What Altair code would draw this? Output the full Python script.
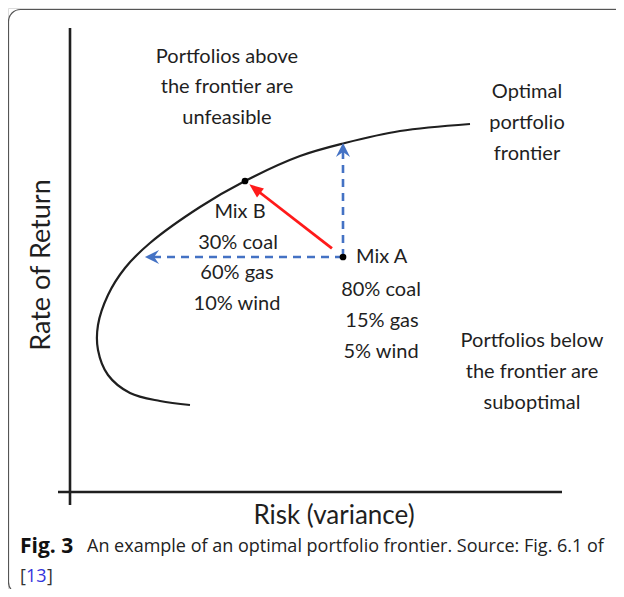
import altair as alt
import pandas as pd
import numpy as np

# ---- data (conceptual units: risk on x, return on y) ----
frontier_x = [40.0, 33.0, 27.5, 23.0, 17.5, 13.0, 8.0, 5.5, 3.8, 2.8, 2.8, 3.8, 6.0, 9.0, 12.0]
frontier_y = [36.8, 36.1, 34.9, 33.6, 31.1, 28.5, 24.9, 22.4, 19.7, 16.7, 14.2, 11.7, 9.9, 9.1, 8.7]

mix_names = ["Mix A", "Mix B"]
mix_x = [27.3, 17.5]
mix_y = [23.5, 31.1]

# blue dashed moves from Mix A: straight up (same risk) and straight left (same return)
move_tip_x = [27.3, 7.5]
move_tip_y = [34.9, 23.5]

text_lines = ["Portfolios above", "the frontier are", "unfeasible",
              "Optimal", "portfolio", "frontier",
              "Mix B", "30% coal", "60% gas", "10% wind",
              "80% coal", "15% gas", "5% wind",
              "Portfolios below", "the frontier are", "suboptimal"]
text_x = [15.7, 15.7, 15.7,
          45.7, 45.7, 45.7,
          17.0, 16.8, 16.7, 16.7,
          31.1, 31.2, 31.1,
          46.2, 46.2, 46.2]
text_y = [43.5, 40.5, 37.4,
          40.0, 36.9, 33.8,
          28.0, 24.9, 21.9, 18.8,
          20.2, 17.1, 14.0,
          15.1, 12.0, 8.9]

x_title = "Risk (variance)"
y_title = "Rate of Return"
caption_bold = "Fig. 3"
caption_text = "An example of an optimal portfolio frontier. Source: Fig. 6.1 of"
caption_ref = "13"

# ---- scales ----
XS = alt.Scale(domain=[-6.2, 54.6], nice=False, zero=False)
YS = alt.Scale(domain=[-9.7, 48.4], nice=False, zero=False)
FONT = "Lato"
CFONT = "Open Sans"
INK = "#1f1f1f"
BLUE = "#4472c4"
RED = "#ff1a1a"
FS = 20

def X(f):
    return alt.X(f, type="quantitative", scale=XS, axis=None)

def Y(f):
    return alt.Y(f, type="quantitative", scale=YS, axis=None)

# frame
frame_df = pd.DataFrame({"x": [-6.15], "x2": [62.0], "y": [48.25], "y2": [-10.2]})
frame = alt.Chart(frame_df).mark_rect(filled=False, stroke="#555555", strokeWidth=1.2,
                                      cornerRadius=12, clip=False).encode(
    x=X("x"), x2="x2", y=Y("y"), y2="y2")

# axes lines
axes_df = pd.DataFrame({"x": [0.0, -1.2], "x2": [0.0, 49.2], "y": [-1.3, 0.0], "y2": [46.4, 0.0]})
axes = alt.Chart(axes_df).mark_rule(color=INK, strokeWidth=2.6).encode(
    x=X("x"), x2="x2", y=Y("y"), y2="y2")

# frontier
fr_df = pd.DataFrame({"x": frontier_x, "y": frontier_y, "o": list(range(len(frontier_x)))})
frontier = alt.Chart(fr_df).mark_line(color=INK, strokeWidth=2.2, interpolate="catmull-rom").encode(
    x=X("x"), y=Y("y"), order="o:Q")

# blue dashed moves
ax, ay = mix_x[0], mix_y[0]
head_len = 0.7
mv_rows = []
for tx, ty in zip(move_tip_x, move_tip_y):
    d = np.hypot(tx - ax, ty - ay)
    ux, uy = (tx - ax) / d, (ty - ay) / d
    mv_rows.append({"x": ax, "y": ay, "x2": tx - ux * head_len, "y2": ty - uy * head_len,
                    "hx": tx - ux * head_len, "hy": ty - uy * head_len,
                    "ang": (np.degrees(np.arctan2(ux, uy)) + 360) % 360})
mv_df = pd.DataFrame(mv_rows)
moves = alt.Chart(mv_df).mark_rule(color=BLUE, strokeWidth=2.6, strokeDash=[8, 6]).encode(
    x=X("x"), x2="x2", y=Y("y"), y2="y2")
chevron = "M0,-1 L1,1 L0,0.3 L-1,1 Z"
heads = alt.Chart(mv_df).mark_point(shape=chevron, filled=True, color=BLUE, size=200, opacity=1).encode(
    x=X("hx"), y=Y("hy"), angle=alt.Angle("ang:Q", scale=None))

# red arrow Mix A -> Mix B
bx, by = mix_x[1], mix_y[1]
d = np.hypot(bx - ax, by - ay)
ux, uy = (bx - ax) / d, (by - ay) / d
tipx, tipy = bx - ux * 0.55, by - uy * 0.55
red_df = pd.DataFrame([{"x": ax + ux * 1.4, "y": ay + uy * 1.4,
                        "x2": tipx - ux * 1.0, "y2": tipy - uy * 1.0,
                        "hx": tipx - ux * 0.7, "hy": tipy - uy * 0.7,
                        "ang": (np.degrees(np.arctan2(ux, uy)) + 360) % 360}])
red_line = alt.Chart(red_df).mark_rule(color=RED, strokeWidth=2.8).encode(
    x=X("x"), x2="x2", y=Y("y"), y2="y2")
red_head = alt.Chart(red_df).mark_point(shape="M0,-1 L0.8,1 L-0.8,1 Z", filled=True, color=RED,
                                        size=200, opacity=1).encode(
    x=X("hx"), y=Y("hy"), angle=alt.Angle("ang:Q", scale=None))

# mix points
mix_df = pd.DataFrame({"name": mix_names, "x": mix_x, "y": mix_y})
dots = alt.Chart(mix_df).mark_point(shape="circle", filled=True, color="black", size=45, opacity=1).encode(
    x=X("x"), y=Y("y"))
mixA_label = alt.Chart(mix_df.iloc[[0]]).mark_text(font=FONT, fontSize=FS, color=INK, align="left",
                                                    dx=13).encode(
    x=X("x"), y=Y("y"), text="name:N")

# annotation text
t_df = pd.DataFrame({"t": text_lines, "x": text_x, "y": text_y})
texts = alt.Chart(t_df).mark_text(font=FONT, fontSize=FS, color=INK, align="center").encode(
    x=X("x"), y=Y("y"), text="t:N")

# axis titles
xt = alt.Chart(pd.DataFrame({"t": [x_title], "x": [26.4], "y": [-2.4]})).mark_text(
    font=FONT, fontSize=26, color=INK).encode(x=X("x"), y=Y("y"), text="t:N")
yt = alt.Chart(pd.DataFrame({"t": [y_title], "x": [-2.8], "y": [22.7]})).mark_text(
    font=FONT, fontSize=27, color=INK, angle=270).encode(x=X("x"), y=Y("y"), text="t:N")

# caption
cap1 = alt.Chart(pd.DataFrame({"t": [caption_bold], "x": [-5.0], "y": [-5.5]})).mark_text(
    font=CFONT, fontSize=21, fontWeight="bold", color="#111", align="left").encode(
    x=X("x"), y=Y("y"), text="t:N")
cap2 = alt.Chart(pd.DataFrame({"t": [caption_text], "x": [1.7], "y": [-5.5]})).mark_text(
    font=CFONT, fontSize=18, color="#222", align="left").encode(
    x=X("x"), y=Y("y"), text="t:N")
br_df = pd.DataFrame({"t": ["[", "]"], "x": [-5.0, -2.3], "y": [-8.5, -8.5]})
cap3 = alt.Chart(br_df).mark_text(font=CFONT, fontSize=18, color="#333", align="left").encode(
    x=X("x"), y=Y("y"), text="t:N")
cap4 = alt.Chart(pd.DataFrame({"t": [caption_ref], "x": [-4.4], "y": [-8.5]})).mark_text(
    font=CFONT, fontSize=18, color="#3333dd", align="left").encode(
    x=X("x"), y=Y("y"), text="t:N")

chart = alt.layer(frame, axes, frontier, moves, heads, red_line, red_head, dots, mixA_label,
                  texts, xt, yt, cap1, cap2, cap3, cap4).properties(
    width=608, height=581, padding=0, autosize=alt.AutoSizeParams(type="none")
).configure_view(stroke=None).configure(background="white")

chart.save("out.html", embed_options={"renderer": "svg", "actions": False})
